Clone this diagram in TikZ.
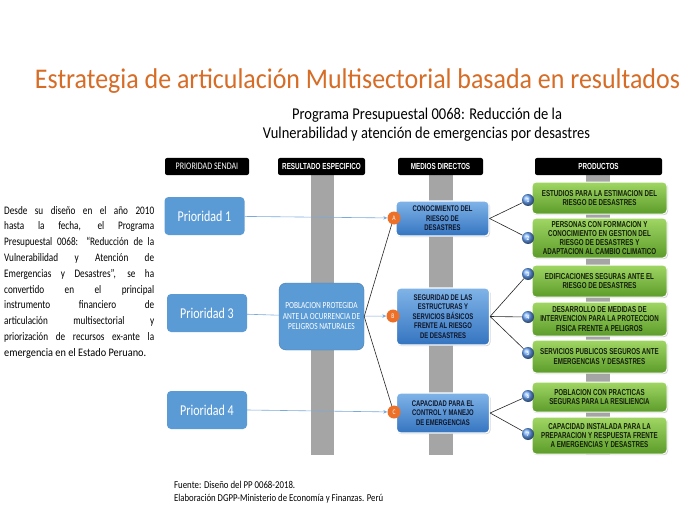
\documentclass[tikz,border=0pt]{standalone}
\usepackage{fontspec}
\setmainfont{Carlito}[FakeStretch=0.8]
\newfontfamily\narrowfont{Liberation Sans}[FakeStretch=0.72]
\usetikzlibrary{arrows.meta,shadows}

\definecolor{titulo}{RGB}{214,108,38}
\definecolor{azul}{RGB}{91,155,213}
\definecolor{flecha}{RGB}{120,170,220}
\definecolor{barra}{RGB}{165,165,165}
\definecolor{naranja}{RGB}{236,112,40}
\definecolor{medioarriba}{RGB}{128,180,232}
\definecolor{medioabajo}{RGB}{52,116,192}
\definecolor{mediotexto}{RGB}{15,22,40}
\definecolor{prodarriba}{RGB}{160,214,100}
\definecolor{prodabajo}{RGB}{92,156,42}
\definecolor{prodtexto}{RGB}{20,30,10}
\definecolor{bola}{RGB}{105,165,250}

\newcommand{\jline}[1]{\makebox[150pt][s]{#1}}
\newcommand{\ancho}[2]{\resizebox{#1}{\height}{#2}}

\tikzset{
  hdr/.style={fill=black,rounded corners=2pt,text=white,minimum height=17pt,inner sep=0pt,
    font=\narrowfont\bfseries\fontsize{8.8}{9}\selectfont},
  prio/.style={fill=azul,rounded corners=4pt,text=white,minimum width=80pt,minimum height=38pt,
    font=\fontsize{15}{17}\selectfont},
  resbox/.style={fill=azul,draw=azul!80!black,rounded corners=7pt,text=white,minimum width=85pt,
    minimum height=67pt,align=center,font=\fontsize{9.3}{10.5}\selectfont},
  medio/.style={top color=medioarriba,bottom color=medioabajo,draw=white,line width=1.2pt,
    rounded corners=4pt,minimum width=93pt,align=center,inner sep=1pt,
    drop shadow={shadow xshift=1pt,shadow yshift=-1.2pt,opacity=0.35},
    font=\narrowfont\bfseries\fontsize{8.2}{9.6}\selectfont,text=mediotexto},
  prod/.style={top color=prodarriba,bottom color=prodabajo,draw=white,line width=1pt,
    rounded corners=4pt,minimum width=135pt,align=center,inner sep=1pt,
    drop shadow={shadow xshift=1pt,shadow yshift=-1.2pt,opacity=0.35},
    font=\narrowfont\bfseries\fontsize{8.6}{9.3}\selectfont,text=prodtexto},
  letra/.style={circle,fill=naranja,text=white,minimum size=13pt,inner sep=0pt,
    font=\fontsize{7}{7}\selectfont},
  num/.style={circle,ball color=bola,text=white,minimum size=12pt,inner sep=0pt,
    font=\bfseries\fontsize{6.5}{6.5}\selectfont},
  azulflecha/.style={flecha,line width=0.6pt,-{Stealth[length=4pt,width=3.5pt]}},
  negra/.style={black!85,line width=0.6pt}
}

\begin{document}
\begin{tikzpicture}[x=1pt,y=-1pt]
\useasboundingbox[fill=white] (0,0) rectangle (688,516);

% titulos
\node[anchor=base,text=titulo,font=\fontsize{28.5}{30}\selectfont] (tit) at (357.5,89)
  {\ancho{645pt}{Estrategia de articulación Multisectorial basada en resultados}};
\node[anchor=base,font=\fontsize{16.5}{18}\selectfont] (sub1) at (427,120)
  {\ancho{270pt}{Programa Presupuestal 0068: Reducción de la}};
\node[anchor=base,font=\fontsize{16.5}{18}\selectfont] (sub2) at (426.5,139)
  {\ancho{327pt}{Vulnerabilidad y atención de emergencias por desastres}};

% barras grises
\fill[barra] (311,175) rectangle (334,455);
\fill[barra] (429,175) rectangle (453,455);
\fill[barra] (586,175) rectangle (610,455);

% cabeceras
\node[hdr,minimum width=84pt,font=\fontsize{10}{10}\selectfont] (h1) at (207,166.5) {PRIORIDAD SENDAI};
\node[hdr,minimum width=87pt] (h2) at (321.5,166.5) {RESULTADO ESPECIFICO};
\node[hdr,minimum width=85pt] (h3) at (440.5,166.5) {MEDIOS DIRECTOS};
\node[hdr,minimum width=127pt] (h4) at (598.5,166.5) {PRODUCTOS};

% prioridades y resultado
\node[prio] (p1) at (204.5,216) {Prioridad 1};
\node[prio] (p3) at (207,313) {Prioridad 3};
\node[prio] (p4) at (207,410) {Prioridad 4};
\node[resbox] (res) at (321.5,316.5) {POBLACION PROTEGIDA\\ANTE LA OCURRENCIA DE\\PELIGROS NATURALES};

% medios directos
\node[medio,minimum height=35pt] (ma) at (442.5,218.5) {CONOCIMIENTO DEL\\RIESGO DE\\DESASTRES};
\node[medio,minimum height=57pt] (mb) at (443,316.5) {SEGURIDAD DE LAS\\ESTRUCTURAS Y\\SERVICIOS BÁSICOS\\FRENTE AL RIESGO\\DE DESASTRES};
\node[medio,minimum height=40pt] (mc) at (443,413) {CAPACIDAD PARA EL\\CONTROL Y MANEJO\\DE EMERGENCIAS};

% productos
\node[prod,minimum height=32pt] (r1) at (599.5,198) {ESTUDIOS PARA LA ESTIMACION DEL\\RIESGO DE DESASTRES};
\node[prod,minimum height=40pt] (r2) at (599.5,238) {PERSONAS CON FORMACION Y\\CONOCIMIENTO EN GESTION DEL\\RIESGO DE DESASTRES Y\\ADAPTACION AL CAMBIO CLIMATICO};
\node[prod,minimum height=32pt] (r3) at (599.5,281) {EDIFICACIONES SEGURAS ANTE EL\\RIESGO DE DESASTRES};
\node[prod,minimum height=34pt] (r4) at (599.5,319) {DESARROLLO DE MEDIDAS DE\\INTERVENCION PARA LA PROTECCION\\FISICA FRENTE A PELIGROS};
\node[prod,minimum height=33pt] (r5) at (599.5,356.5) {SERVICIOS PUBLICOS SEGUROS ANTE\\EMERGENCIAS Y DESASTRES};
\node[prod,minimum height=30pt] (r6) at (599.5,397) {POBLACION CON PRACTICAS\\SEGURAS PARA LA RESILIENCIA};
\node[prod,minimum height=37pt] (r7) at (599.5,435.5) {CAPACIDAD INSTALADA PARA LA\\PREPARACION Y RESPUESTA FRENTE\\A EMERGENCIAS Y DESASTRES};

% circulos
\node[letra] (A) at (394,218) {A};
\node[letra] (B) at (393,316) {B};
\node[letra] (C) at (394,412) {C};
\node[num] (n1) at (528,200) {1};
\node[num] (n2) at (528,238) {2};
\node[num] (n3) at (528,274) {3};
\node[num] (n4) at (528,317) {4};
\node[num] (n5) at (528,353) {5};
\node[num] (n6) at (528,396) {6};
\node[num] (n7) at (528,434) {7};

% conectores
\draw[azulflecha] (p1) -- (A);
\draw[flecha,line width=0.6pt] (p3) -- (res);
\draw[azulflecha] (res) -- (B);
\draw[azulflecha] (p4.east) -- (C);
\draw[negra] (res.east) -- (A.250);
\draw[negra] (res.east) -- (C.110);
\draw[negra] (ma.east) -- (n1);
\draw[negra] (ma.east) -- (n2);
\draw[negra] (mb.east) -- (n3);
\draw[negra] (mb.east) -- (n4);
\draw[negra] (mb.east) -- (n5);
\draw[negra] (mc.east) -- (n6);
\draw[negra] (mc.east) -- (n7);

% texto lateral
\node[anchor=north west,inner sep=0pt,align=left,font=\fontsize{11.5}{15.8}\selectfont] (txt) at (4,206)
  {\jline{Desde su diseño en el año 2010}\\
   \jline{hasta la fecha, el Programa}\\
   \jline{Presupuestal 0068: “Reducción de la}\\
   \jline{Vulnerabilidad y Atención de}\\
   \jline{Emergencias y Desastres”, se ha}\\
   \jline{convertido en el principal}\\
   \jline{instrumento financiero de}\\
   \jline{articulación multisectorial y}\\
   \jline{priorización de recursos ex-ante la}\\
   \ancho{142pt}{emergencia en el Estado Peruano.}};

% fuente
\node[anchor=base west,inner sep=0pt,font=\fontsize{10.5}{12}\selectfont] (f1) at (174,488)
  {\ancho{121pt}{Fuente: Diseño del PP 0068-2018.}};
\node[anchor=base west,inner sep=0pt,font=\fontsize{10.5}{12}\selectfont] (f2) at (174,501)
  {\ancho{209pt}{Elaboración DGPP-Ministerio de Economía y Finanzas. Perú}};
\end{tikzpicture}
\end{document}
